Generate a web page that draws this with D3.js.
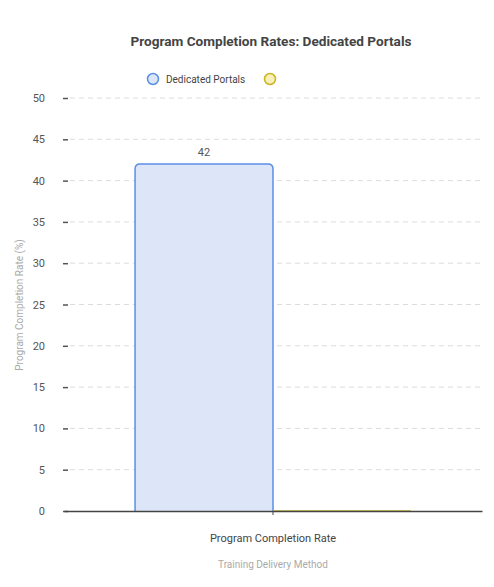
<!DOCTYPE html>
<html>
<head>
<meta charset="utf-8" />
<title>Program Completion Rates: Dedicated Portals</title>
<style>
html, body { margin: 0; padding: 0; background: #fff; }
svg { font-family: Roboto, "Noto Sans", sans-serif; }
</style>
</head>
<body>
<svg id="chart" width="494" height="587"></svg>
<script src="https://cdnjs.cloudflare.com/ajax/libs/d3/7.8.5/d3.min.js"></script>
<script>
// data
var categories = ["Program Completion Rate"];
var seriesNames = ["Dedicated Portals", ""];
var seriesValues = [[42], [0]];
var fills = ["#dce6f8", "#f8f0b8"];
var strokes = ["#5b8fe6", "#c9b421"];
var yTicks = [0, 5, 10, 15, 20, 25, 30, 35, 40, 45, 50];

var svg = d3.select("#chart");
var margin = {top: 98, right: 12, bottom: 76, left: 64};
var W = 494, H = 587;
var iw = W - margin.left - margin.right, ih = H - margin.top - margin.bottom;

var g = svg.append("g").attr("transform", "translate(" + margin.left + "," + margin.top + ")");

var x = d3.scaleBand().domain(categories).range([0, iw]).paddingInner(0.34).paddingOuter(0.17);
var xs = d3.scaleBand().domain(d3.range(seriesNames.length)).range([0, x.bandwidth()]);
var y = d3.scaleLinear().domain([0, 50]).range([ih, 0]);

// grid
g.selectAll(".grid").data(yTicks.slice(1)).enter().append("line")
  .attr("x1", 6).attr("x2", iw)
  .attr("y1", function(d) { return y(d); }).attr("y2", function(d) { return y(d); })
  .attr("stroke", "#dcdcdc").attr("stroke-dasharray", "5,4");

// y axis
var yAxis = g.append("g").call(d3.axisLeft(y).tickValues(yTicks).tickSize(-5).tickPadding(19));
yAxis.select(".domain").remove();
yAxis.selectAll(".tick line").attr("stroke", "#555").attr("stroke-width", 1.5).attr("x1", -1).attr("x2", 4);
yAxis.selectAll(".tick text").attr("fill", "#555").attr("font-size", 11).attr("font-family", "Roboto, sans-serif");

// bars
categories.forEach(function(c, ci) {
  seriesValues.forEach(function(vals, si) {
    var v = vals[ci];
    var bx = x(c) + xs(si), bw = xs.bandwidth();
    var by = y(v), bh = ih - y(v);
    var r = Math.min(5, bh);
    g.append("path")
      .attr("d", "M" + bx + "," + ih + "V" + (by + r) + "Q" + bx + "," + by + " " + (bx + r) + "," + by +
        "H" + (bx + bw - r) + "Q" + (bx + bw) + "," + by + " " + (bx + bw) + "," + (by + r) + "V" + ih)
      .attr("fill", fills[si]).attr("stroke", strokes[si]).attr("stroke-width", 1.5);
    if (v > 0) {
      g.append("text").attr("x", bx + bw / 2).attr("y", by - 8)
        .attr("text-anchor", "middle").attr("font-size", 11).attr("fill", "#555").text(v);
    }
  });
});

// x axis
var xAxis = g.append("g").attr("transform", "translate(0," + ih + ")")
  .call(d3.axisBottom(x).tickSizeInner(4).tickSizeOuter(0).tickPadding(19));
xAxis.select(".domain").attr("stroke", "#444").attr("stroke-width", 1.3);
xAxis.selectAll(".tick line").attr("stroke", "#444");
xAxis.selectAll(".tick text").attr("fill", "#444").attr("font-size", 11).attr("font-family", "Roboto, sans-serif");

// titles
svg.append("text").attr("x", 271).attr("y", 46).attr("text-anchor", "middle")
  .attr("font-size", 13.6).attr("font-weight", "bold").attr("fill", "#444")
  .text("Program Completion Rates: Dedicated Portals");

svg.append("text").attr("x", 273).attr("y", 568).attr("text-anchor", "middle")
  .attr("font-size", 10).attr("fill", "#aaa").text("Training Delivery Method");

svg.append("text").attr("transform", "translate(23,305) rotate(-90)").attr("text-anchor", "middle")
  .attr("font-size", 10).attr("fill", "#aaa").text("Program Completion Rate (%)");

// legend
var legX = [153, 270];
seriesNames.forEach(function(s, i) {
  svg.append("circle").attr("cx", legX[i]).attr("cy", 79).attr("r", 5.5)
    .attr("fill", fills[i]).attr("stroke", strokes[i]).attr("stroke-width", 1.5);
  if (s) {
    svg.append("text").attr("x", legX[i] + 13).attr("y", 83)
      .attr("font-size", 10).attr("fill", "#444").text(s);
  }
});
</script>
</body>
</html>
